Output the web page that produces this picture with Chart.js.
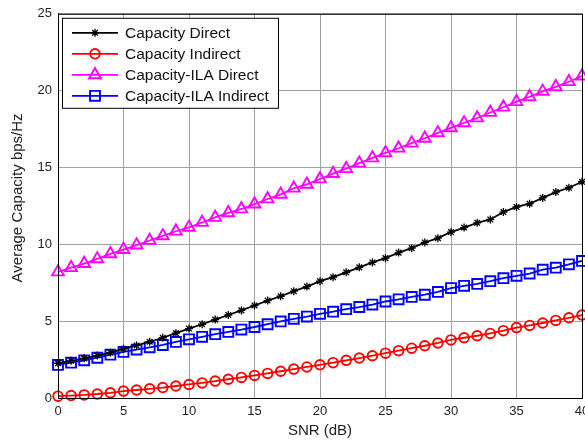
<!DOCTYPE html>
<html>
<head>
<meta charset="utf-8">
<script src="https://cdn.jsdelivr.net/npm/chart.js"></script>
<style>
  html, body { margin: 0; padding: 0; background: #fff; overflow: hidden; }
  #wrap { width: 585px; height: 441px; overflow: hidden; }
</style>
</head>
<body>
<div id="wrap"><canvas id="grafica" width="600" height="441"></canvas></div>
<script>
// SNR en dB (eje x)
const snr = [0, 1, 2, 3, 4, 5, 6, 7, 8, 9, 10, 11, 12, 13, 14, 15, 16, 17, 18, 19, 20,
    21, 22, 23, 24, 25, 26, 27, 28, 29, 30, 31, 32, 33, 34, 35, 36, 37, 38, 39, 40];

// Series
const capacityDirect = [2.26, 2.42, 2.58, 2.76, 2.95, 3.2, 3.42, 3.66, 3.92, 4.22, 4.52,
    4.8, 5.1, 5.4, 5.7, 6.02, 6.34, 6.62, 6.95, 7.25, 7.6,
    7.86, 8.18, 8.5, 8.82, 9.1, 9.46, 9.75, 10.12, 10.4, 10.8,
    11.09, 11.4, 11.62, 12.1, 12.43, 12.64, 13.02, 13.4, 13.68, 14.07];
const capacityIndirect = [0.12, 0.16, 0.2, 0.26, 0.34, 0.45, 0.52, 0.6, 0.68, 0.78, 0.88,
    0.98, 1.1, 1.22, 1.34, 1.47, 1.6, 1.74, 1.88, 2.02, 2.16,
    2.3, 2.45, 2.6, 2.75, 2.92, 3.08, 3.24, 3.4, 3.58, 3.78,
    3.92, 4.05, 4.2, 4.38, 4.58, 4.72, 4.88, 5.05, 5.22, 5.4];
const ilaDirect = [8.2, 8.48, 8.75, 9.05, 9.38, 9.66, 9.95, 10.25, 10.55, 10.85, 11.1,
    11.42, 11.75, 12.05, 12.3, 12.62, 12.95, 13.25, 13.65, 13.9, 14.25,
    14.6, 14.92, 15.28, 15.62, 15.95, 16.25, 16.58, 16.9, 17.25, 17.58,
    17.9, 18.22, 18.58, 18.92, 19.28, 19.6, 19.95, 20.25, 20.58, 20.95];
const ilaIndirect = [2.15, 2.3, 2.45, 2.62, 2.82, 3.0, 3.15, 3.3, 3.45, 3.65, 3.82,
    3.98, 4.15, 4.3, 4.45, 4.62, 4.8, 4.98, 5.15, 5.3, 5.48,
    5.62, 5.78, 5.92, 6.08, 6.28, 6.42, 6.58, 6.72, 6.9, 7.15,
    7.3, 7.42, 7.6, 7.8, 7.95, 8.1, 8.35, 8.48, 8.7, 8.92];

const seriesNames = ['Capacity Direct', 'Capacity Indirect', 'Capacity-ILA Direct', 'Capacity-ILA Indirect'];
const xTicks = [0, 5, 10, 15, 20, 25, 30, 35, 40];
const yTicks = [0, 5, 10, 15, 20, 25];
const yTitulo = 'Average Capacity bps/Hz';

const fuente = "'Liberation Sans', Arial, sans-serif";

function puntos(valores) {
    return snr.map((x, i) => ({ x: x, y: valores[i] }));
}

function serie(nombre, valores, color, estilo, radio, grosorMarca) {
    return {
        label: nombre,
        data: puntos(valores),
        borderColor: color,
        backgroundColor: 'rgba(0,0,0,0)',
        borderWidth: 1.8,
        pointStyle: estilo,
        pointRadius: radio,
        pointBorderWidth: grosorMarca,
        pointBorderColor: color,
        pointBackgroundColor: 'rgba(0,0,0,0)',
        tension: 0,
        clip: false
    };
}

// Marco de la gráfica, título del eje y y leyenda dentro del área
const marcoYLeyenda = {
    id: 'marcoYLeyenda',
    afterDatasetsDraw(chart) {
        const ctx = chart.ctx;
        const a = chart.chartArea;
        ctx.save();
        ctx.strokeStyle = '#000';
        ctx.lineWidth = 1;
        ctx.strokeRect(a.left + 0.5, a.top + 0.5, a.right - a.left, a.bottom - a.top);

        // título del eje y
        ctx.save();
        ctx.translate(18, (a.top + a.bottom) / 2 - 8);
        ctx.rotate(-Math.PI / 2);
        ctx.fillStyle = '#222';
        ctx.font = '15px ' + fuente;
        ctx.textAlign = 'center';
        ctx.textBaseline = 'middle';
        ctx.fillText(yTitulo, 0, 0);
        ctx.restore();

        // leyenda
        const bx = a.left + 4, by = a.top + 4, bw = 216, bh = 90;
        ctx.fillStyle = '#fff';
        ctx.fillRect(bx, by, bw, bh);
        ctx.strokeRect(bx + 0.5, by + 0.5, bw, bh);
        ctx.textBaseline = 'middle';
        chart.data.datasets.forEach((ds, i) => {
            const y = by + 15 + i * 21;
            ctx.strokeStyle = ds.borderColor;
            ctx.lineWidth = ds.borderWidth;
            ctx.beginPath();
            ctx.moveTo(bx + 10, y);
            ctx.lineTo(bx + 56, y);
            ctx.stroke();
            ctx.fillStyle = 'rgba(0,0,0,0)';
            ctx.lineWidth = ds.pointBorderWidth;
            Chart.helpers.drawPoint(ctx, {
                pointStyle: ds.pointStyle,
                radius: ds.pointRadius,
                borderWidth: ds.pointBorderWidth,
                rotation: 0
            }, bx + 33, y);
            ctx.fillStyle = '#111';
            ctx.font = '15.5px ' + fuente;
            ctx.fillText(ds.label, bx + 63, y + 1);
        });
        ctx.restore();
    }
};

const ctx = document.getElementById('grafica').getContext('2d');
const grafica = new Chart(ctx, {
    type: 'line',
    data: {
        datasets: [
            serie(seriesNames[0], capacityDirect, '#000000', 'star', 4, 1.3),
            serie(seriesNames[1], capacityIndirect, '#ff0000', 'circle', 4.8, 1.9),
            serie(seriesNames[2], ilaDirect, '#ff00ff', 'triangle', 6.8, 1.9),
            serie(seriesNames[3], ilaIndirect, '#0000ff', 'rect', 7, 1.9)
        ]
    },
    options: {
        responsive: false,
        animation: false,
        devicePixelRatio: 1,
        layout: { padding: { left: 0, right: 18, top: 13, bottom: 0 } },
        plugins: {
            legend: { display: false },
            tooltip: { enabled: false }
        },
        scales: {
            x: {
                type: 'linear',
                min: 0,
                max: 40,
                afterBuildTicks: (s) => { s.ticks = xTicks.map(v => ({ value: v })); },
                afterFit: (s) => { s.height = 43; },
                grid: { color: '#a0a0a0', lineWidth: 1, drawTicks: false },
                border: { color: '#000', width: 1 },
                ticks: { color: '#222', font: { family: fuente, size: 13 }, padding: 6, maxRotation: 0 },
                title: { display: true, text: 'SNR (dB)', color: '#222',
                    font: { family: fuente, size: 15 }, padding: { top: 0, bottom: 1 } }
            },
            y: {
                min: 0,
                max: 25,
                afterBuildTicks: (s) => { s.ticks = yTicks.map(v => ({ value: v })); },
                afterFit: (s) => { s.width = 58; },
                grid: { color: '#a0a0a0', lineWidth: 1, drawTicks: false },
                border: { color: '#000', width: 1 },
                ticks: { color: '#222', font: { family: fuente, size: 13 }, padding: 6 }
            }
        }
    },
    plugins: [marcoYLeyenda]
});
</script>
</body>
</html>
